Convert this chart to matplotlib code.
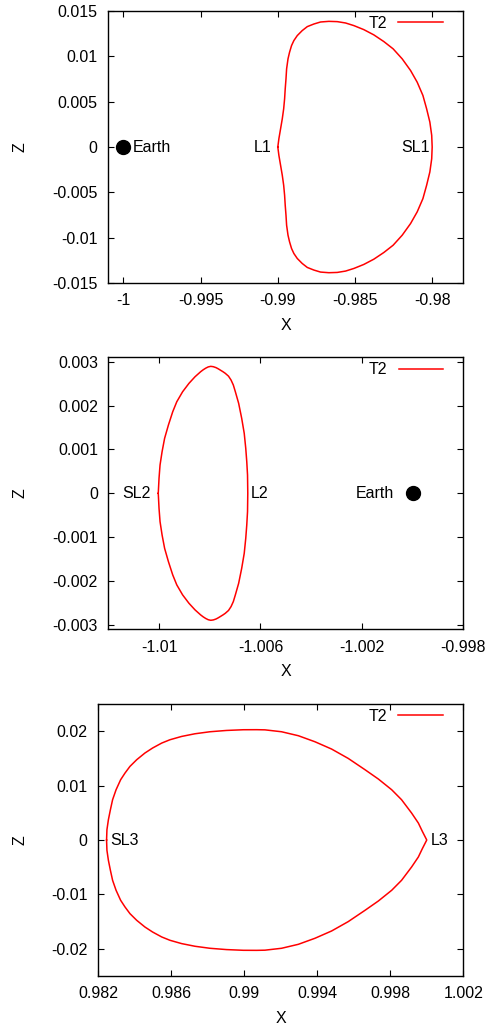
import matplotlib
matplotlib.use("Agg")
import matplotlib.pyplot as plt

plt.rcParams["font.family"] = ["Liberation Sans", "DejaVu Sans"]
plt.rcParams["font.size"] = 11.5

# Orbite T2 autour de L1 (X, Z)
x_l1 = [-0.99000, -0.98993, -0.98982, -0.98971, -0.98962, -0.98956, -0.98952,
        -0.98947, -0.98943, -0.98934, -0.98924, -0.98911, -0.98896, -0.98874,
        -0.98842, -0.98809, -0.98766, -0.98723, -0.98669, -0.98615, -0.98561,
        -0.98507, -0.98443, -0.98378, -0.98313, -0.98253, -0.98194, -0.98140,
        -0.98097, -0.98060, -0.98036, -0.98015, -0.98003, -0.98000,
        -0.98003, -0.98015, -0.98036, -0.98060, -0.98097, -0.98140, -0.98194,
        -0.98253, -0.98313, -0.98378, -0.98443, -0.98507, -0.98561, -0.98615,
        -0.98669, -0.98723, -0.98766, -0.98809, -0.98842, -0.98874, -0.98896,
        -0.98911, -0.98924, -0.98934, -0.98943, -0.98947, -0.98952, -0.98956,
        -0.98962, -0.98971, -0.98982, -0.98993, -0.99000]
z_l1 = [0.0, 0.00092, 0.00202, 0.00312, 0.00422, 0.00532, 0.00642,
        0.00752, 0.00862, 0.00972, 0.01045, 0.01119, 0.01174, 0.01229,
        0.01284, 0.01328, 0.01357, 0.01379, 0.01386, 0.01383, 0.01368,
        0.01339, 0.01295, 0.01237, 0.01163, 0.01083, 0.00972, 0.00844,
        0.00715, 0.00569, 0.00422, 0.00275, 0.00129, 0.0,
        -0.00129, -0.00275, -0.00422, -0.00569, -0.00715, -0.00844, -0.00972,
        -0.01083, -0.01163, -0.01237, -0.01295, -0.01339, -0.01368, -0.01383,
        -0.01386, -0.01379, -0.01357, -0.01328, -0.01284, -0.01229, -0.01174,
        -0.01119, -0.01045, -0.00972, -0.00862, -0.00752, -0.00642, -0.00532,
        -0.00422, -0.00312, -0.00202, -0.00092, 0.0]

# Orbite T2 autour de L2
x_l2 = [-1.01003, -1.01000, -1.00996, -1.00988, -1.00978, -1.00963, -1.00946,
        -1.00930, -1.00907, -1.00882, -1.00858, -1.00836, -1.00826, -1.00816,
        -1.00806, -1.00796, -1.00786, -1.00775, -1.00766, -1.00757, -1.00748,
        -1.00739, -1.00726, -1.00716, -1.00707, -1.00699,
        -1.00686, -1.00674, -1.00664, -1.00658, -1.00654, -1.00651, -1.00650,
        -1.00651, -1.00654, -1.00658, -1.00664, -1.00674, -1.00686,
        -1.00699, -1.00707, -1.00716, -1.00726, -1.00739, -1.00748, -1.00757,
        -1.00766, -1.00775, -1.00786, -1.00796, -1.00806, -1.00816, -1.00826,
        -1.00836, -1.00858, -1.00882, -1.00907, -1.00930, -1.00946,
        -1.00963, -1.00978, -1.00988, -1.00996, -1.01000, -1.01003]
z_l2 = [0.0, 0.000342, 0.000645, 0.000948, 0.001253, 0.001556, 0.001859,
        0.002087, 0.002315, 0.002506, 0.002657, 0.002771, 0.002815, 0.002852,
        0.002881, 0.002894, 0.002886, 0.002864, 0.002836, 0.002804, 0.002772,
        0.002736, 0.002670, 0.002582, 0.002468, 0.002315,
        0.002051, 0.001709, 0.001367, 0.001025, 0.000721, 0.000417, 0.0,
        -0.000417, -0.000721, -0.001025, -0.001367, -0.001709, -0.002051,
        -0.002315, -0.002468, -0.002582, -0.002670, -0.002736, -0.002772, -0.002804,
        -0.002836, -0.002864, -0.002886, -0.002894, -0.002881, -0.002852, -0.002815,
        -0.002771, -0.002657, -0.002506, -0.002315, -0.002087, -0.001859,
        -0.001556, -0.001253, -0.000948, -0.000645, -0.000342, 0.0]

# Orbite T2 autour de L3
x_l3 = [0.98247, 0.98249, 0.98257, 0.98268, 0.98280, 0.98299, 0.98324, 0.98348,
        0.98375, 0.98412, 0.98457, 0.98499, 0.98549, 0.98594, 0.98658, 0.98731,
        0.98813, 0.98904, 0.98996, 0.99069, 0.99114, 0.99205, 0.99297, 0.99388,
        0.99479, 0.99570, 0.99662, 0.99735, 0.99808, 0.99862, 0.99917, 0.99954,
        0.99976, 1.00000,
        0.99976, 0.99954, 0.99917, 0.99862, 0.99808, 0.99735, 0.99662, 0.99570,
        0.99479, 0.99388, 0.99297, 0.99205, 0.99114, 0.99069, 0.98996, 0.98904,
        0.98813, 0.98731, 0.98658, 0.98594, 0.98549, 0.98499, 0.98457, 0.98412,
        0.98375, 0.98348, 0.98324, 0.98299, 0.98280, 0.98268, 0.98257, 0.98249,
        0.98247]
z_l3 = [0.0, 0.00189, 0.00373, 0.00557, 0.00741, 0.00924, 0.01108, 0.01231,
        0.01353, 0.01476, 0.01599, 0.01691, 0.01782, 0.01843, 0.01904, 0.01953,
        0.01990, 0.02014, 0.02027, 0.02028, 0.02025, 0.01990, 0.01917, 0.01806,
        0.01672, 0.01500, 0.01292, 0.01121, 0.00924, 0.00741, 0.00496, 0.00312,
        0.00158, 0.0,
        -0.00158, -0.00312, -0.00496, -0.00741, -0.00924, -0.01121, -0.01292, -0.01500,
        -0.01672, -0.01806, -0.01917, -0.01990, -0.02025, -0.02028, -0.02027, -0.02014,
        -0.01990, -0.01953, -0.01904, -0.01843, -0.01782, -0.01691, -0.01599, -0.01476,
        -0.01353, -0.01231, -0.01108, -0.00924, -0.00741, -0.00557, -0.00373, -0.00189,
        0.0]

earth = (-1.0, 0.0)

xticks1 = [-1.0, -0.995, -0.99, -0.985, -0.98]
xlabels1 = ["-1", "-0.995", "-0.99", "-0.985", "-0.98"]
yticks1 = [-0.015, -0.01, -0.005, 0.0, 0.005, 0.01, 0.015]
ylabels1 = ["-0.015", "-0.01", "-0.005", "0", "0.005", "0.01", "0.015"]

xticks2 = [-1.01, -1.006, -1.002, -0.998]
xlabels2 = ["-1.01", "-1.006", "-1.002", "-0.998"]
yticks2 = [-0.003, -0.002, -0.001, 0.0, 0.001, 0.002, 0.003]
ylabels2 = ["-0.003", "-0.002", "-0.001", "0", "0.001", "0.002", "0.003"]

xticks3 = [0.982, 0.986, 0.99, 0.994, 0.998, 1.002]
xlabels3 = ["0.982", "0.986", "0.99", "0.994", "0.998", "1.002"]
yticks3 = [-0.02, -0.01, 0.0, 0.01, 0.02]
ylabels3 = ["-0.02", "-0.01", "0", "0.01", "0.02"]

fig = plt.figure(figsize=(4.87, 10.30), dpi=100)
ax1 = fig.add_axes([0.2218, 0.7252, 0.7290, 0.2641])
ax2 = fig.add_axes([0.2224, 0.3890, 0.7290, 0.2641])
ax3 = fig.add_axes([0.2012, 0.0524, 0.7501, 0.2641])


def style(ax, xt, xl, yt, yl, xlim, ylim):
    ax.set_xlim(*xlim)
    ax.set_ylim(*ylim)
    ax.set_xticks(xt)
    ax.set_xticklabels(xl)
    ax.set_yticks(yt)
    ax.set_yticklabels(yl)
    ax.tick_params(direction="in", top=True, right=True, length=4, width=0.8,
                   pad=7.5, labelsize=11.5)
    for s in ax.spines.values():
        s.set_linewidth(1.0)
    ax.set_xlabel("X")
    ax.set_ylabel("Z", va="center")
    ax.xaxis.set_label_coords(0.5, -0.128)
    ax.legend(loc="upper right", frameon=False, markerfirst=False,
              handlelength=2.8, handletextpad=0.7, borderpad=0,
              borderaxespad=0, bbox_to_anchor=(0.944, 0.982))


ax1.plot(x_l1, z_l1, color="red", lw=1.1, label="T2")
ax1.plot(*earth, "o", color="black", ms=10)
style(ax1, xticks1, xlabels1, yticks1, ylabels1, (-1.001, -0.978), (-0.015, 0.015))
ax1.yaxis.set_label_coords(-0.248, 0.5)
ax1.annotate("Earth", earth, xytext=(7, 0), textcoords="offset points",
             ha="left", va="center")
ax1.annotate("L1", (-0.99, 0.0), xytext=(-4.5, 0), textcoords="offset points",
             ha="right", va="center")
ax1.annotate("SL1", (-0.98, 0.0), xytext=(-2, 0), textcoords="offset points",
             ha="right", va="center")

ax2.plot(x_l2, z_l2, color="red", lw=1.1, label="T2")
ax2.plot(*earth, "o", color="black", ms=10)
style(ax2, xticks2, xlabels2, yticks2, ylabels2, (-1.012, -0.998), (-0.0031, 0.0031))
ax2.yaxis.set_label_coords(-0.249, 0.5)
ax2.annotate("Earth", earth, xytext=(-13.4, 0), textcoords="offset points",
             ha="right", va="center")
ax2.annotate("SL2", (-1.01003, 0.0), xytext=(-5.3, 0), textcoords="offset points",
             ha="right", va="center")
ax2.annotate("L2", (-1.0065, 0.0), xytext=(2.4, 0), textcoords="offset points",
             ha="left", va="center")

ax3.plot(x_l3, z_l3, color="red", lw=1.1, label="T2")
style(ax3, xticks3, xlabels3, yticks3, ylabels3, (0.982, 1.002), (-0.025, 0.025))
ax3.yaxis.set_label_coords(-0.213, 0.5)
ax3.annotate("SL3", (0.98247, 0.0), xytext=(2.4, 0), textcoords="offset points",
             ha="left", va="center")
ax3.annotate("L3", (1.0, 0.0), xytext=(2.9, 0), textcoords="offset points",
             ha="left", va="center")

plt.savefig("out.png", dpi=100)
